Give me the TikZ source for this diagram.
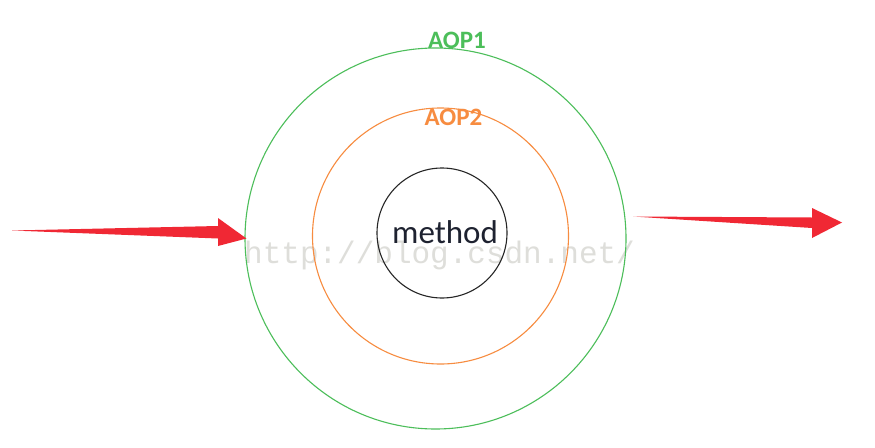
\documentclass[tikz,border=0pt]{standalone}
\usepackage{fontspec}
\setmainfont{Carlito}
\newfontfamily\wmfont{Liberation Mono}
\definecolor{aopgreen}{RGB}{76,190,90}
\definecolor{aoporange}{RGB}{247,140,64}
\definecolor{arrowred}{RGB}{240,40,52}
\definecolor{wmgray}{RGB}{222,222,218}
\definecolor{methodink}{RGB}{30,34,48}
\begin{document}
\begin{tikzpicture}[x=1pt,y=-1pt,
  ring/.style={circle,draw,line width=1.1pt,inner sep=0pt},
  lbl/.style={font=\fontsize{25}{25}\selectfont\bfseries,inner sep=0pt,anchor=base},
  bigarrow/.style={fill=arrowred,draw=none}]
\useasboundingbox (0,0) rectangle (875,447);
\fill[white] (0,0) rectangle (875,447);
% watermark
\node[wmgray,font=\wmfont\fontsize{31}{31}\selectfont,anchor=base west,inner sep=0pt] (wm) at (244,263) {http://blog.csdn.net/};
% circles
\node[ring,draw=aopgreen,minimum size=381pt] (aop1) at (435.5,238.5) {};
\node[ring,draw=aoporange,minimum size=256pt] (aop2) at (440.5,236) {};
\node[ring,draw=black!85,minimum size=130pt] (method) at (442,233) {};
\node[font=\fontsize{33}{33}\selectfont,text=methodink,anchor=base,inner sep=0pt] (mtext) at (445,243) {method};
% labels
\node[lbl,text=aopgreen] (l1) at (457,48) {AOP1};
\node[lbl,text=aoporange] (l2) at (453.5,125) {AOP2};
% arrows
\coordinate (inTail) at (12,231.5);
\coordinate (inTip) at (aop1.west);
\fill[bigarrow] (inTail) ++(0,-1) -- (218,226) -- (218,218) -- ([xshift=2pt]inTip) -- (218,246) -- (218,238.5) -- ([yshift=1pt]inTail) -- cycle;
\coordinate (outTail) at (633,218);
\coordinate (outTip) at (842,222.5);
\fill[bigarrow] (outTail) ++(0,-1.5) -- (812,217.5) -- (812,208) -- (outTip) -- (812,238) -- (812,228) -- ([yshift=1.5pt]outTail) -- cycle;
\end{tikzpicture}
\end{document}
